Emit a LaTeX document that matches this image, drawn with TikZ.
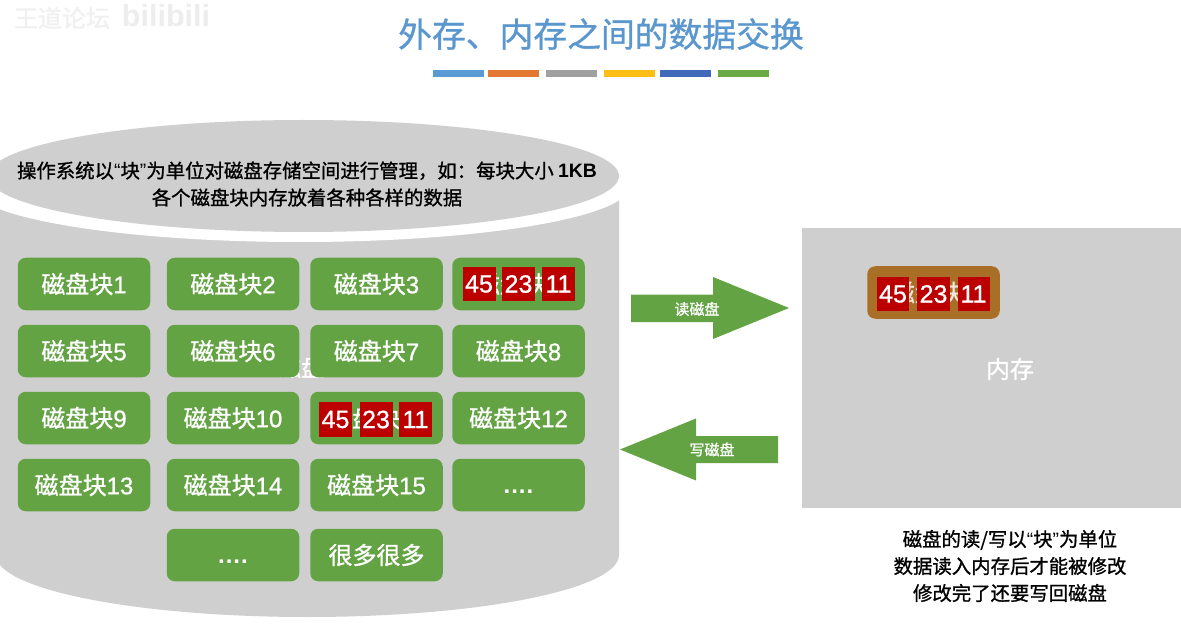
\documentclass[tikz,border=0pt]{standalone}
\usepackage{fontspec}
\setmainfont[FakeBold=0.9]{Liberation Sans}
\newfontfamily\cjk[FakeBold=1]{Noto Sans CJK SC}
\newfontfamily\latb{Liberation Sans Bold}
\newfontfamily\latq{Liberation Sans}
\usetikzlibrary{shapes.geometric}
\definecolor{diskgray}{HTML}{CFCFCF}
\definecolor{blockgreen}{HTML}{64A344}
\definecolor{titleblue}{HTML}{5B97CF}
\definecolor{numred}{HTML}{BC0000}
\definecolor{memblock}{HTML}{A96F27}
\newcommand{\lat}[1]{{\rmfamily #1}}
\newcommand{\dotsrow}{{\latb\rule{0pt}{17pt}\addfontfeature{LetterSpace=4}....}}
\tikzset{
  blockbox/.style={draw=none,fill=blockgreen,rounded corners=8pt,minimum width=132.5pt,minimum height=52.5pt,inner sep=0pt,text=white,font=\fontsize{24}{26}\selectfont\cjk},
  numbox/.style={draw=none,fill=numred,minimum width=33pt,minimum height=34.5pt,inner sep=0pt,text=white,font=\fontsize{25}{27}\selectfont\rmfamily},
  bar/.style={draw=none,minimum width=51pt,minimum height=6.5pt,inner sep=0pt},
  desc/.style={text=black,font=\fontsize{19.4}{27}\selectfont\cjk,align=center,inner sep=0pt},
  arrowlabel/.style={text=white,font=\fontsize{15}{16}\selectfont\cjk,inner sep=0pt},
}
\begin{document}
\begin{tikzpicture}[x=1pt,y=-1pt]
\useasboundingbox (0,0) rectangle (1181,631);
\fill[white] (0,0) rectangle (1181,631);
% watermark
\node[text=black!6,font=\fontsize{24}{26}\selectfont\cjk,inner sep=0pt] (wm1) at (62,18) {王道论坛};
\node[text=black!7,font=\fontsize{30.5}{32}\selectfont\latb,inner sep=0pt] (wm2) at (166,16) {bilibili};
% title
\node[text=titleblue,font=\fontsize{33.8}{36}\selectfont\cjk,inner sep=0pt] (title) at (601,34) {外存、内存之间的数据交换};
\node[bar,fill={rgb,255:red,91;green,155;blue,213}] (b1) at (458,73.5) {};
\node[bar,fill={rgb,255:red,226;green,120;blue,50}] (b2) at (513.5,73.5) {};
\node[bar,fill={rgb,255:red,160;green,160;blue,160}] (b3) at (571,73.5) {};
\node[bar,fill={rgb,255:red,250;green,190;blue,20}] (b4) at (629,73.5) {};
\node[bar,fill={rgb,255:red,65;green,105;blue,185}] (b5) at (685.5,73.5) {};
\node[bar,fill={rgb,255:red,105;green,170;blue,70}] (b6) at (743,73.5) {};
% cylinder
\fill[diskgray] (-4,186) -- (619,186) -- (619,555) arc[start angle=0,end angle=180,x radius=311.5,y radius=62] -- cycle;
\fill[white] (300,186) ellipse[x radius=330,y radius=56];
\fill[diskgray] (303.5,176) ellipse[x radius=315.5,y radius=56];
\node[desc] (disktext) at (307,184) {操作系统以{\latq “}块{\latq ”}为单位对磁盘存储空间进行管理，如：每块大小 {\latb 1KB}\\各个磁盘块内存放着各种各样的数据};
% hidden label fragment
\node[text=white,font=\fontsize{24}{26}\selectfont\cjk,inner sep=0pt] (hidden) at (301,367) {磁盘};
% blocks
\node[blockbox] (k1) at (84,284) {磁盘块\lat{1}};
\node[blockbox] (k2) at (233,284) {磁盘块\lat{2}};
\node[blockbox] (k3) at (376.5,284) {磁盘块\lat{3}};
\node[blockbox] (k4) at (518.5,284) {磁盘块\lat{4}};
\node[blockbox] (k5) at (84,351) {磁盘块\lat{5}};
\node[blockbox] (k6) at (233,351) {磁盘块\lat{6}};
\node[blockbox] (k7) at (376.5,351) {磁盘块\lat{7}};
\node[blockbox] (k8) at (518.5,351) {磁盘块\lat{8}};
\node[blockbox] (k9) at (84,418) {磁盘块\lat{9}};
\node[blockbox] (k10) at (233,418) {磁盘块\lat{10}};
\node[blockbox] (k11) at (376.5,418) {磁盘块\lat{11}};
\node[blockbox] (k12) at (518.5,418) {磁盘块\lat{12}};
\node[blockbox] (k13) at (84,485) {磁盘块\lat{13}};
\node[blockbox] (k14) at (233,485) {磁盘块\lat{14}};
\node[blockbox] (k15) at (376.5,485) {磁盘块\lat{15}};
\node[blockbox] (k16) at (518.5,485) {\dotsrow};
\node[blockbox] (k17) at (233,555) {\dotsrow};
\node[blockbox] (k18) at (376.5,555) {很多很多};
% red cells block 4
\node[numbox] (a1) at (479,284) {45};
\node[numbox] (a2) at (518.5,284) {23};
\node[numbox] (a3) at (558.5,284) {11};
% red cells block 11
\node[numbox] (c1) at (335.5,419.5) {45};
\node[numbox] (c2) at (376,419.5) {23};
\node[numbox] (c3) at (415.5,419.5) {11};
% arrows
\fill[blockgreen] (631,294.5) -- (713,294.5) -- (713,277) -- (789,308) -- (713,339) -- (713,322) -- (631,322) -- cycle;
\node[arrowlabel] (readl) at (697,309) {读磁盘};
\fill[blockgreen] (778,436) -- (696,436) -- (696,418.5) -- (620,449.5) -- (696,480.5) -- (696,463) -- (778,463) -- cycle;
\node[arrowlabel] (writel) at (712,449.5) {写磁盘};
% memory
\node[draw=none,fill=diskgray,minimum width=379pt,minimum height=280pt,inner sep=0pt] (mem) at (991.5,368) {};
\node[text=white,font=\fontsize{24}{26}\selectfont\cjk,inner sep=0pt] (memlabel) at (1010,369) {内存};
\node[blockbox,fill=memblock,text=white!85!memblock] (mb) at (933.5,292.5) {磁盘块\lat{4}};
\node[numbox,minimum width=32pt] (m1) at (893,294) {45};
\node[numbox] (m2) at (933.5,294) {23};
\node[numbox,minimum width=32pt] (m3) at (973.5,294) {11};
% note
\node[desc] (note) at (1010,566) {磁盘的读/写以{\latq “}块{\latq ”}为单位\\数据读入内存后才能被修改\\修改完了还要写回磁盘};
\end{tikzpicture}
\end{document}
